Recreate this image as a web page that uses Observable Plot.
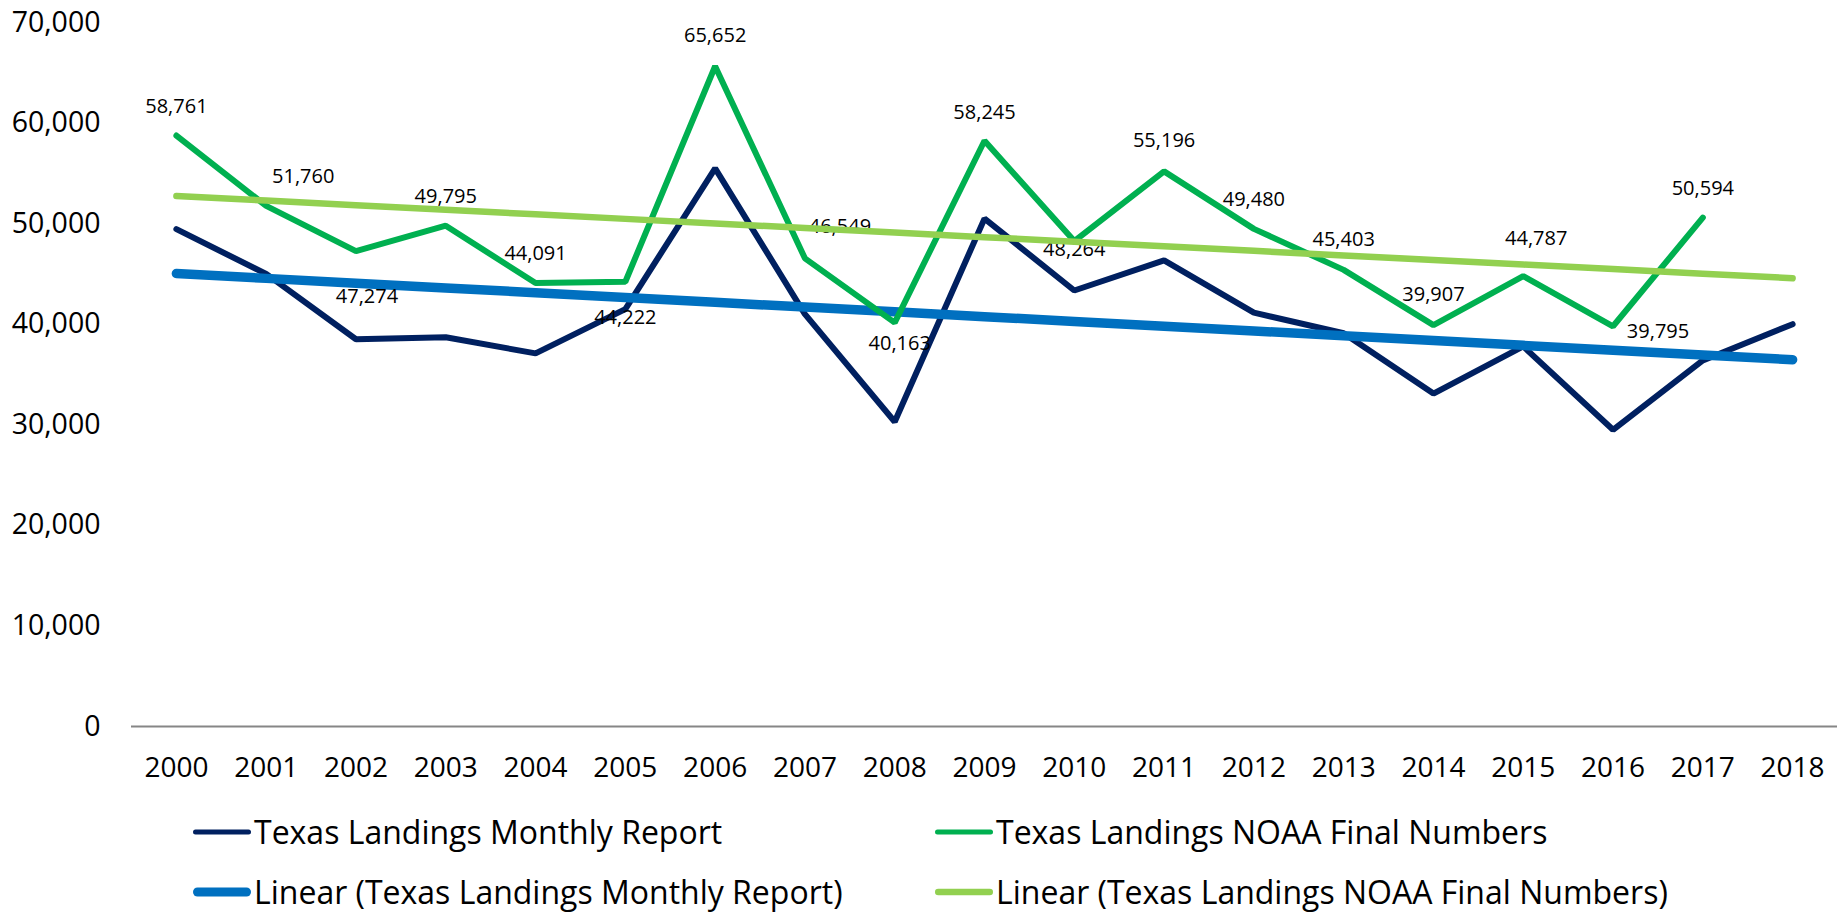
<!DOCTYPE html>
<html>
<head>
<meta charset="utf-8">
<script src="https://cdn.jsdelivr.net/npm/d3@7"></script>
<script src="https://cdn.jsdelivr.net/npm/@observablehq/plot@0.6"></script>
<style>
  html, body { margin: 0; padding: 0; background: #fff; }
  #wrap { position: relative; width: 1845px; height: 912px; font-family: "Open Sans", sans-serif; overflow: hidden; }
  #chart { position: absolute; left: 0; top: 0; }
  .leg { position: absolute; height: 34px; line-height: 34px; display: flex; align-items: center; font-size: 32px; color: #000; white-space: nowrap; }
  .leg svg { display: block; }
</style>
</head>
<body>
<div id="wrap"><div id="chart"></div></div>
<script>
// ---------------- data ----------------
const years = ["2000","2001","2002","2003","2004","2005","2006","2007","2008","2009",
               "2010","2011","2012","2013","2014","2015","2016","2017","2018"];
const monthlyReport = [49450, 45000, 38500, 38700, 37100, 41500, 55500, 41000, 30300, 50500,
                       43350, 46350, 41150, 39100, 33100, 37800, 29500, 36400, 40000];
const noaaFinal = [58761, 51760, 47274, 49795, 44091, 44222, 65652, 46549, 40163, 58245,
                   48264, 55196, 49480, 45403, 39907, 44787, 39795, 50594, null];
const yTicks = [0, 10000, 20000, 30000, 40000, 50000, 60000, 70000];
const seriesNames = [
  "Texas Landings Monthly Report",
  "Texas Landings NOAA Final Numbers",
  "Linear (Texas Landings Monthly Report)",
  "Linear (Texas Landings NOAA Final Numbers)"
];

// ---------------- styling ----------------
const colors = ["#002060", "#00B050", "#0070C0", "#92D050"];
const widths = [6, 6, 9.5, 6.5];
// label placement offsets (px) for NOAA data labels, by index
const labelDx = [0, 37, 11, 0, 0, 0, 0, 35, 5, 0, 0, 0, 0, 0, 0, 13, 45, 0];
const labelDy = [-29, -29, 46, -29, -29, 36, -31, -32, 21, -28, 8, -31, -29, -30, -31, -37, 5, -29];

// linear trend (least squares over available points, like Excel's trendline)
function trend(values) {
  const pts = values.map((v, i) => [i, v]).filter(d => d[1] != null);
  const mx = d3.mean(pts, d => d[0]), my = d3.mean(pts, d => d[1]);
  const sxy = d3.sum(pts, d => (d[0] - mx) * (d[1] - my));
  const sxx = d3.sum(pts, d => (d[0] - mx) ** 2);
  const b = sxy / sxx, a = my - b * mx;
  return years.map((y, i) => ({year: y, value: a + b * i}));
}

const monthly = years.map((y, i) => ({year: y, value: monthlyReport[i]}));
const noaa = years.map((y, i) => ({year: y, value: noaaFinal[i]})).filter(d => d.value != null);
const monthlyTrend = trend(monthlyReport);
const noaaTrend = trend(noaaFinal);

const fmt = d3.format(",");

const labelMarks = noaa.map((d, i) =>
  Plot.text([d], {
    x: "year", y: "value", text: d => fmt(d.value),
    dx: labelDx[i], dy: labelDy[i],
    fontSize: 20, fill: "#000", textAnchor: "middle"
  })
);

const chart = Plot.plot({
  width: 1845,
  height: 790,
  marginTop: 22,
  marginBottom: 64,
  marginLeft: 131,
  marginRight: 8,
  style: {fontFamily: "'Open Sans', sans-serif", background: "#fff", color: "#000", overflow: "visible"},
  x: {type: "point", domain: years, padding: 0.5, round: false, label: null},
  y: {domain: [0, 70000], label: null},
  marks: [
    Plot.axisY({ticks: yTicks, tickSize: 0, tickPadding: 31, tickFormat: fmt, fontSize: 28.5, label: null}),
    Plot.axisX({tickSize: 0, tickPadding: 31, fontSize: 28, label: null}),
    Plot.ruleY([0], {stroke: "#868686", strokeWidth: 2}),
    Plot.line(monthly, {x: "year", y: "value", stroke: colors[0], strokeWidth: widths[0], strokeLinejoin: "miter", strokeLinecap: "round"}),
    Plot.line(monthlyTrend, {x: "year", y: "value", stroke: colors[2], strokeWidth: widths[2], strokeLinecap: "round"}),
    Plot.line(noaa, {x: "year", y: "value", stroke: colors[1], strokeWidth: widths[1], strokeLinejoin: "miter", strokeLinecap: "round"}),
    ...labelMarks,
    Plot.line(noaaTrend, {x: "year", y: "value", stroke: colors[3], strokeWidth: widths[3], strokeLinecap: "round"})
  ]
});
document.getElementById("chart").appendChild(chart);

// ---------------- legend (HTML below the SVG) ----------------
const legendPos = [
  {left: 192, cy: 832}, {left: 934, cy: 832},
  {left: 192, cy: 892}, {left: 934, cy: 892}
];
const swatchWidths = [5, 5, 9, 6.5];
const wrap = document.getElementById("wrap");
seriesNames.forEach((name, i) => {
  const div = document.createElement("div");
  div.className = "leg";
  div.style.left = legendPos[i].left + "px";
  div.style.top = (legendPos[i].cy - 17) + "px";
  const sw = swatchWidths[i];
  div.innerHTML = `<svg width="62" height="20"><line x1="${1 + sw/2}" x2="${59 - sw/2}" y1="10" y2="10" stroke="${colors[i]}" stroke-width="${sw}" stroke-linecap="round"/></svg><span>${name}</span>`;
  wrap.appendChild(div);
});
</script>
</body>
</html>
